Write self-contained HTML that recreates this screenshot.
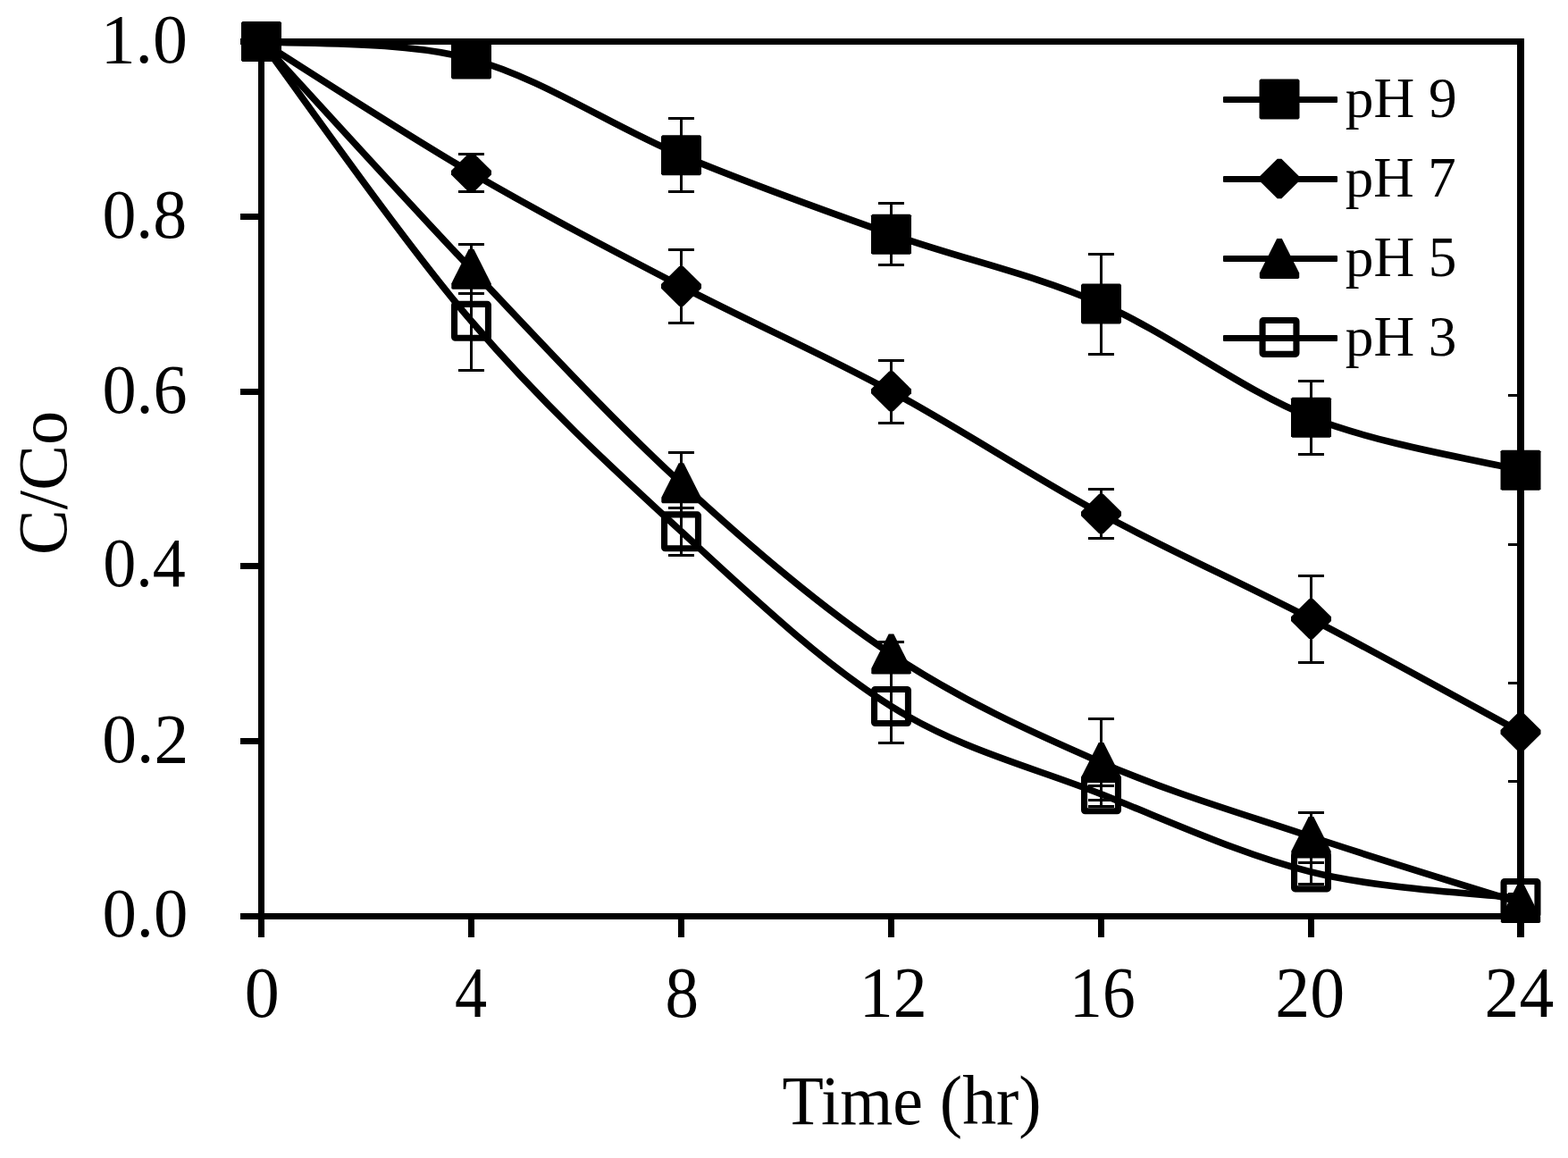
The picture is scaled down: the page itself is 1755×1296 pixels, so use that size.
<!DOCTYPE html>
<html><head><meta charset="utf-8"><title>C/Co vs Time (hr)</title>
<style>
html,body{margin:0;padding:0;background:#fff;}
body{width:1755px;height:1296px;overflow:hidden;}
svg{display:block;}
text{font-family:"Liberation Serif","Times New Roman",serif;fill:#000;}
</style></head><body>
<svg width="1755" height="1296" viewBox="0 0 1755 1296">
<rect width="1755" height="1296" fill="#fff"/>
<defs><clipPath id="pa"><rect x="289" y="43" width="1417" height="986"/></clipPath></defs>
<g fill="#000" shape-rendering="crispEdges">
<rect x="289" y="43" width="7" height="986"/>
<rect x="289" y="1022" width="1417" height="7"/>
<rect x="289" y="43" width="1417" height="7"/>
<rect x="1698" y="43" width="8" height="986"/>
<rect x="269" y="1022.0" width="21" height="7"/>
<rect x="269" y="826.0" width="21" height="7"/>
<rect x="269" y="630.0" width="21" height="7"/>
<rect x="269" y="435.0" width="21" height="7"/>
<rect x="269" y="239.0" width="21" height="7"/>
<rect x="269" y="43.0" width="21" height="7"/>
<rect x="289.0" y="1028" width="7" height="21"/>
<rect x="524.0" y="1028" width="7" height="21"/>
<rect x="759.0" y="1028" width="7" height="21"/>
<rect x="994.0" y="1028" width="7" height="21"/>
<rect x="1229.0" y="1028" width="7" height="21"/>
<rect x="1464.0" y="1028" width="7" height="21"/>
<rect x="1698.0" y="1028" width="8" height="21"/>
</g>
<text x="114.38" y="1048.10" font-size="79px" textLength="95.93" lengthAdjust="spacingAndGlyphs">0.0</text>
<text x="114.36" y="852.60" font-size="79px" textLength="96.80" lengthAdjust="spacingAndGlyphs">0.2</text>
<text x="115.18" y="656.40" font-size="79px" textLength="92.70" lengthAdjust="spacingAndGlyphs">0.4</text>
<text x="114.40" y="462.00" font-size="79px" textLength="95.28" lengthAdjust="spacingAndGlyphs">0.6</text>
<text x="114.42" y="265.90" font-size="79px" textLength="94.76" lengthAdjust="spacingAndGlyphs">0.8</text>
<text x="112.65" y="69.80" font-size="79px" textLength="97.31" lengthAdjust="spacingAndGlyphs">1.0</text>
<text x="273.73" y="1138.30" font-size="79.5px" textLength="39.03" lengthAdjust="spacingAndGlyphs">0</text>
<text x="509.06" y="1138.30" font-size="79.5px" textLength="36.10" lengthAdjust="spacingAndGlyphs">4</text>
<text x="744.55" y="1138.30" font-size="79.5px" textLength="37.50" lengthAdjust="spacingAndGlyphs">8</text>
<text x="961.83" y="1138.30" font-size="79.5px" textLength="75.85" lengthAdjust="spacingAndGlyphs">12</text>
<text x="1197.12" y="1138.30" font-size="79.5px" textLength="73.58" lengthAdjust="spacingAndGlyphs">16</text>
<text x="1427.28" y="1138.30" font-size="79.5px" textLength="77.78" lengthAdjust="spacingAndGlyphs">20</text>
<text x="1661.58" y="1138.30" font-size="79.5px" textLength="77.66" lengthAdjust="spacingAndGlyphs">24</text>
<text x="875.43" y="1258.20" font-size="77.5px" textLength="290.22" lengthAdjust="spacingAndGlyphs">Time (hr)</text>
<text transform="translate(73.6,618.00) rotate(-90)" x="-3.13" y="0" font-size="78px" textLength="161.22" lengthAdjust="spacingAndGlyphs">C/Co</text>
<g fill="none" stroke="#000" stroke-width="7.6" stroke-linejoin="round">
<path d="M292.50,46.50 C331.67,49.77 449.17,44.88 527.50,66.10 C605.83,87.32 684.17,141.12 762.50,173.80 C840.83,206.48 919.17,234.48 997.50,262.20 C1075.83,289.92 1154.17,305.92 1232.50,340.10 C1310.83,374.28 1389.25,436.27 1467.50,467.30 C1545.75,498.33 1662.92,516.47 1702.00,526.30"/>
<path d="M292.50,46.50 C331.67,70.97 449.17,147.65 527.50,193.30 C605.83,238.95 684.17,279.63 762.50,320.40 C840.83,361.17 919.17,395.47 997.50,437.90 C1075.83,480.33 1154.17,532.55 1232.50,575.00 C1310.83,617.45 1389.25,651.88 1467.50,692.60 C1545.75,733.32 1662.92,798.18 1702.00,819.30"/>
<path d="M292.50,46.50 C331.67,88.95 449.17,218.82 527.50,301.20 C605.83,383.58 684.17,469.00 762.50,540.80 C840.83,612.60 919.17,679.90 997.50,732.00 C1075.83,784.10 1154.17,819.32 1232.50,853.40 C1310.83,887.48 1389.25,910.32 1467.50,936.50 C1545.75,962.68 1662.92,998.17 1702.00,1010.50"/>
<path d="M292.50,46.50 C331.67,98.63 449.17,267.92 527.50,359.30 C605.83,450.68 684.17,522.93 762.50,594.80 C840.83,666.67 919.17,741.50 997.50,790.50 C1075.83,839.50 1154.17,857.90 1232.50,888.80 C1310.83,919.70 1389.25,956.45 1467.50,975.90 C1545.75,995.35 1662.92,1000.57 1702.00,1005.50"/>
</g>
<g fill="#000" shape-rendering="crispEdges" clip-path="url(#pa)">
<path d="M526.0,58.0h3V74.0h-3Z M513.0,56.5h29v3h-29Z M513.0,72.5h29v3h-29Z"/>
<path d="M761.0,132.5h3V214.5h-3Z M748.0,131.0h29v3h-29Z M748.0,213.0h29v3h-29Z"/>
<path d="M996.0,227.5h3V296.5h-3Z M983.0,226.0h29v3h-29Z M983.0,295.0h29v3h-29Z"/>
<path d="M1231.0,284.5h3V396.0h-3Z M1218.0,283.0h29v3h-29Z M1218.0,394.5h29v3h-29Z"/>
<path d="M1466.0,426.0h3V508.5h-3Z M1453.0,424.5h29v3h-29Z M1453.0,507.0h29v3h-29Z"/>
<path d="M1700.5,442.5h3V609.0h-3Z M1687.5,441.0h29v3h-29Z M1687.5,607.5h29v3h-29Z"/>
<path d="M526.0,172.5h3V214.0h-3Z M513.0,171.0h29v3h-29Z M513.0,212.5h29v3h-29Z"/>
<path d="M761.0,279.5h3V361.0h-3Z M748.0,278.0h29v3h-29Z M748.0,359.5h29v3h-29Z"/>
<path d="M996.0,403.5h3V473.0h-3Z M983.0,402.0h29v3h-29Z M983.0,471.5h29v3h-29Z"/>
<path d="M1231.0,547.0h3V602.5h-3Z M1218.0,545.5h29v3h-29Z M1218.0,601.0h29v3h-29Z"/>
<path d="M1466.0,644.0h3V741.0h-3Z M1453.0,642.5h29v3h-29Z M1453.0,739.5h29v3h-29Z"/>
<path d="M1700.5,764.0h3V874.5h-3Z M1687.5,762.5h29v3h-29Z M1687.5,873.0h29v3h-29Z"/>
<path d="M526.0,273.0h3V328.5h-3Z M513.0,271.5h29v3h-29Z M513.0,327.0h29v3h-29Z"/>
<path d="M761.0,506.0h3V575.5h-3Z M748.0,504.5h29v3h-29Z M748.0,574.0h29v3h-29Z"/>
<path d="M996.0,718.0h3V746.0h-3Z M983.0,716.5h29v3h-29Z M983.0,744.5h29v3h-29Z"/>
<path d="M1231.0,804.5h3V902.0h-3Z M1218.0,803.0h29v3h-29Z M1218.0,900.5h29v3h-29Z"/>
<path d="M1466.0,909.5h3V965.5h-3Z M1453.0,908.0h29v3h-29Z M1453.0,964.0h29v3h-29Z"/>
<path d="M1700.5,1005.0h3V1016.0h-3Z M1687.5,1003.5h29v3h-29Z M1687.5,1014.5h29v3h-29Z"/>
<path d="M526.0,304.5h3V414.5h-3Z M513.0,303.0h29v3h-29Z M513.0,413.0h29v3h-29Z"/>
<path d="M761.0,568.0h3V621.5h-3Z M748.0,566.5h29v3h-29Z M748.0,620.0h29v3h-29Z"/>
<path d="M996.0,750.0h3V831.0h-3Z M983.0,748.5h29v3h-29Z M983.0,829.5h29v3h-29Z"/>
<path d="M1231.0,879.5h3V895.5h-3Z M1218.0,878.0h29v3h-29Z M1218.0,894.0h29v3h-29Z"/>
<path d="M1466.0,965.5h3V989.0h-3Z M1453.0,964.0h29v3h-29Z M1453.0,987.5h29v3h-29Z"/>
<path d="M1700.5,1000.0h3V1011.0h-3Z M1687.5,998.5h29v3h-29Z M1687.5,1009.5h29v3h-29Z"/>
</g>
<g fill="#000">
<path d="M271.50,24.00 L313.50,24.00 L315.00,25.50 L315.00,67.50 L313.50,69.00 L271.50,69.00 L270.00,67.50 L270.00,25.50Z"/>
<path d="M506.50,43.60 L548.50,43.60 L550.00,45.10 L550.00,87.10 L548.50,88.60 L506.50,88.60 L505.00,87.10 L505.00,45.10Z"/>
<path d="M741.50,151.30 L783.50,151.30 L785.00,152.80 L785.00,194.80 L783.50,196.30 L741.50,196.30 L740.00,194.80 L740.00,152.80Z"/>
<path d="M976.50,239.70 L1018.50,239.70 L1020.00,241.20 L1020.00,283.20 L1018.50,284.70 L976.50,284.70 L975.00,283.20 L975.00,241.20Z"/>
<path d="M1211.50,317.60 L1253.50,317.60 L1255.00,319.10 L1255.00,361.10 L1253.50,362.60 L1211.50,362.60 L1210.00,361.10 L1210.00,319.10Z"/>
<path d="M1446.50,444.80 L1488.50,444.80 L1490.00,446.30 L1490.00,488.30 L1488.50,489.80 L1446.50,489.80 L1445.00,488.30 L1445.00,446.30Z"/>
<path d="M1681.00,503.80 L1723.00,503.80 L1724.50,505.30 L1724.50,547.30 L1723.00,548.80 L1681.00,548.80 L1679.50,547.30 L1679.50,505.30Z"/>
<path d="M290.20,24.20 L294.80,24.20 L315.00,44.20 L315.00,48.80 L294.80,68.80 L290.20,68.80 L270.00,48.80 L270.00,44.20Z"/>
<path d="M525.20,171.00 L529.80,171.00 L550.00,191.00 L550.00,195.60 L529.80,215.60 L525.20,215.60 L505.00,195.60 L505.00,191.00Z"/>
<path d="M760.20,298.10 L764.80,298.10 L785.00,318.10 L785.00,322.70 L764.80,342.70 L760.20,342.70 L740.00,322.70 L740.00,318.10Z"/>
<path d="M995.20,415.60 L999.80,415.60 L1020.00,435.60 L1020.00,440.20 L999.80,460.20 L995.20,460.20 L975.00,440.20 L975.00,435.60Z"/>
<path d="M1230.20,552.70 L1234.80,552.70 L1255.00,572.70 L1255.00,577.30 L1234.80,597.30 L1230.20,597.30 L1210.00,577.30 L1210.00,572.70Z"/>
<path d="M1465.20,670.30 L1469.80,670.30 L1490.00,690.30 L1490.00,694.90 L1469.80,714.90 L1465.20,714.90 L1445.00,694.90 L1445.00,690.30Z"/>
<path d="M1699.70,797.00 L1704.30,797.00 L1724.50,817.00 L1724.50,821.60 L1704.30,841.60 L1699.70,841.60 L1679.50,821.60 L1679.50,817.00Z"/>
<path d="M289.70,24.00 L295.30,24.00 L314.70,62.50 L314.70,67.80 L313.50,69.00 L271.50,69.00 L270.30,67.80 L270.30,62.50Z"/>
<path d="M524.70,278.70 L530.30,278.70 L549.70,317.20 L549.70,322.50 L548.50,323.70 L506.50,323.70 L505.30,322.50 L505.30,317.20Z"/>
<path d="M759.70,518.30 L765.30,518.30 L784.70,556.80 L784.70,562.10 L783.50,563.30 L741.50,563.30 L740.30,562.10 L740.30,556.80Z"/>
<path d="M994.70,709.50 L1000.30,709.50 L1019.70,748.00 L1019.70,753.30 L1018.50,754.50 L976.50,754.50 L975.30,753.30 L975.30,748.00Z"/>
<path d="M1229.70,830.90 L1235.30,830.90 L1254.70,869.40 L1254.70,874.70 L1253.50,875.90 L1211.50,875.90 L1210.30,874.70 L1210.30,869.40Z"/>
<path d="M1464.70,914.00 L1470.30,914.00 L1489.70,952.50 L1489.70,957.80 L1488.50,959.00 L1446.50,959.00 L1445.30,957.80 L1445.30,952.50Z"/>
<path d="M1699.20,988.00 L1704.80,988.00 L1724.20,1026.50 L1724.20,1031.80 L1723.00,1033.00 L1681.00,1033.00 L1679.80,1031.80 L1679.80,1026.50Z"/>
<rect x="273.55" y="27.55" width="37.90" height="37.90" rx="1" fill="none" stroke="#000" stroke-width="7.1"/>
<rect x="508.55" y="340.35" width="37.90" height="37.90" rx="1" fill="none" stroke="#000" stroke-width="7.1"/>
<rect x="743.55" y="575.85" width="37.90" height="37.90" rx="1" fill="none" stroke="#000" stroke-width="7.1"/>
<rect x="978.55" y="771.55" width="37.90" height="37.90" rx="1" fill="none" stroke="#000" stroke-width="7.1"/>
<rect x="1213.55" y="869.85" width="37.90" height="37.90" rx="1" fill="none" stroke="#000" stroke-width="7.1"/>
<rect x="1448.55" y="956.95" width="37.90" height="37.90" rx="1" fill="none" stroke="#000" stroke-width="7.1"/>
<rect x="1683.05" y="986.55" width="37.90" height="37.90" rx="1" fill="none" stroke="#000" stroke-width="7.1"/>
</g>
<g fill="#000">
<rect x="1369" y="107.9" width="128" height="7" rx="1"/>
<path d="M1411.00,88.60 L1453.00,88.60 L1454.50,90.10 L1454.50,132.10 L1453.00,133.60 L1411.00,133.60 L1409.50,132.10 L1409.50,90.10Z"/>
<text x="1505.79" y="130.80" font-size="64px" textLength="124.82" lengthAdjust="spacingAndGlyphs">pH 9</text>
<rect x="1369" y="197.0" width="128" height="7" rx="1"/>
<path d="M1429.70,177.70 L1434.30,177.70 L1454.50,197.70 L1454.50,202.30 L1434.30,222.30 L1429.70,222.30 L1409.50,202.30 L1409.50,197.70Z"/>
<text x="1505.79" y="219.90" font-size="64px" textLength="124.04" lengthAdjust="spacingAndGlyphs">pH 7</text>
<rect x="1369" y="286.1" width="128" height="7" rx="1"/>
<path d="M1429.20,266.90 L1434.80,266.90 L1454.20,305.40 L1454.20,310.70 L1453.00,311.90 L1411.00,311.90 L1409.80,310.70 L1409.80,305.40Z"/>
<text x="1505.79" y="309.00" font-size="64px" textLength="124.69" lengthAdjust="spacingAndGlyphs">pH 5</text>
<rect x="1369" y="375.0" width="128" height="7" rx="1"/>
<rect x="1413.05" y="358.45" width="37.90" height="37.90" rx="1" fill="none" stroke="#000" stroke-width="7.1"/>
<text x="1505.79" y="397.90" font-size="64px" textLength="124.69" lengthAdjust="spacingAndGlyphs">pH 3</text>
</g>
</svg>
</body></html>
